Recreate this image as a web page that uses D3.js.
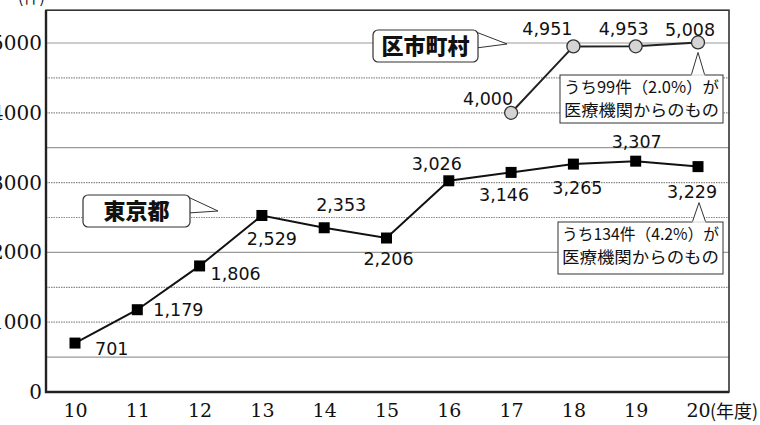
<!DOCTYPE html>
<html>
<head>
<meta charset="utf-8">
<script src="https://cdn.jsdelivr.net/npm/d3@7"></script>
<style>
  body { margin: 0; background: #fff; }
  svg { display: block; }
</style>
</head>
<body>
<div id="chart"></div>
<script>
// data
let years = [10, 11, 12, 13, 14, 15, 16, 17, 18, 19, 20];
let tokyo = [701, 1179, 1806, 2529, 2353, 2206, 3026, 3146, 3265, 3307, 3229];
let muniYears = [17, 18, 19, 20];
let muni = [4000, 4951, 4953, 5008];
let yTicks = [0, 1000, 2000, 3000, 4000, 5000];
let noteTokyo = ["うち134件（4.2%）が", "医療機関からのもの"];
let noteMuni = ["うち99件（2.0%）が", "医療機関からのもの"];

// label placement (dx, dy, anchor) for each point
let tokyoLabelPos = [
    [20, 12, "start"], [16, 6, "start"], [11, 14, "start"], [10, 30, "middle"],
    [17, -17, "middle"], [2, 27, "middle"], [-12, -11, "middle"], [-7, 29, "middle"],
    [4, 30, "middle"], [1, -13, "middle"], [-6, 31, "middle"]
];
let muniLabelPos = [[-23, -8, "middle"], [-26, -11, "middle"], [-12, -11, "middle"], [-8, -6, "middle"]];

let svgWidth = 760;
let svgHeight = 425;

let svg = d3.select("#chart")
    .append("svg")
    .attr("width", svgWidth)
    .attr("height", svgHeight);

let x = d3.scaleLinear().domain([10, 20]).range([75, 698]);
let y = d3.scaleLinear().domain([0, 5000]).range([392, 43]);

let plotLeft = 46, plotRight = 729, plotTop = y(5470), plotBottom = y(0);

// grid lines every 500
let gridVals = d3.range(500, 5001, 500);
svg.append("g")
    .selectAll("line")
    .data(gridVals)
    .enter()
    .append("line")
    .attr("x1", plotLeft)
    .attr("x2", plotRight)
    .attr("y1", d => y(d))
    .attr("y2", d => y(d))
    .attr("stroke", d => (d / 500) % 3 === 1 ? "#9a9a9a" : "#8a8a8a")
    .attr("stroke-width", 1.2)
    .attr("stroke-dasharray", d => (d / 500) % 3 === 1 ? null : "1.5,1");

// frame
svg.append("rect")
    .attr("x", plotLeft)
    .attr("y", plotTop)
    .attr("width", plotRight - plotLeft)
    .attr("height", plotBottom - plotTop)
    .attr("fill", "none")
    .attr("stroke", "#333")
    .attr("stroke-width", 1.6);
svg.append("path")
    .attr("d", `M${plotLeft},${plotTop}V${plotBottom}H${plotRight}`)
    .attr("fill", "none")
    .attr("stroke", "#222")
    .attr("stroke-width", 2.4);

// axes
let yAxis = svg.append("g")
    .attr("transform", `translate(${plotLeft},0)`)
    .call(d3.axisLeft(y).tickValues(yTicks).tickSize(0).tickPadding(4).tickFormat(d => d));
yAxis.select(".domain").remove();
yAxis.selectAll("text")
    .attr("font-family", "DejaVu Serif")
    .attr("font-size", 20)
    .attr("fill", "#111");

let xAxis = svg.append("g")
    .attr("transform", `translate(0,${plotBottom})`)
    .call(d3.axisBottom(x).tickValues(years).tickSize(0).tickPadding(12).tickFormat(d => d));
xAxis.select(".domain").remove();
xAxis.selectAll("text")
    .attr("font-family", "DejaVu Serif")
    .attr("font-size", 19)
    .attr("fill", "#111");

svg.append("text")
    .attr("x", x(20) + 12)
    .attr("y", plotBottom + 26)
    .attr("font-family", "Noto Sans CJK JP")
    .attr("font-size", 18)
    .attr("fill", "#111")
    .text("(年度)");

svg.append("text")
    .attr("x", 18)
    .attr("y", 3)
    .attr("font-family", "Noto Sans CJK JP")
    .attr("font-size", 16)
    .attr("fill", "#111")
    .text("(件)");

// lines
let line = d3.line().x(d => x(d[0])).y(d => y(d[1]));
let tokyoPts = years.map((yr, i) => [yr, tokyo[i]]);
let muniPts = muniYears.map((yr, i) => [yr, muni[i]]);

svg.append("path")
    .datum(tokyoPts)
    .attr("d", line)
    .attr("fill", "none")
    .attr("stroke", "#111")
    .attr("stroke-width", 2);

svg.append("path")
    .datum(muniPts)
    .attr("d", line)
    .attr("fill", "none")
    .attr("stroke", "#222")
    .attr("stroke-width", 2);

svg.append("g")
    .selectAll("rect")
    .data(tokyoPts)
    .enter()
    .append("rect")
    .attr("x", d => x(d[0]) - 5.5)
    .attr("y", d => y(d[1]) - 5.5)
    .attr("width", 11)
    .attr("height", 11)
    .attr("fill", "#000");

svg.append("g")
    .selectAll("circle")
    .data(muniPts)
    .enter()
    .append("circle")
    .attr("cx", d => x(d[0]))
    .attr("cy", d => y(d[1]))
    .attr("r", 6.5)
    .attr("fill", "#d4d4d4")
    .attr("stroke", "#333")
    .attr("stroke-width", 1.3);

// value labels
function addLabels(pts, pos) {
    svg.append("g")
        .selectAll("text")
        .data(pts)
        .enter()
        .append("text")
        .attr("x", (d, i) => x(d[0]) + pos[i][0])
        .attr("y", (d, i) => y(d[1]) + pos[i][1])
        .attr("text-anchor", (d, i) => pos[i][2])
        .attr("font-family", "DejaVu Sans")
        .attr("font-size", 17.5)
        .attr("fill", "#111")
        .text(d => d3.format(",")(d[1]));
}
addLabels(tokyoPts, tokyoLabelPos);
addLabels(muniPts, muniLabelPos);

// series callouts with a pointer tail
function callout(bx, by, bw, bh, tip, label) {
    let g = svg.append("g");
    g.append("path")
        .attr("d", `M${bx + bw - 2},${by + 2}L${tip[0]},${tip[1]}L${bx + bw - 2},${by + bh / 2 + 2}`)
        .attr("fill", "#fff")
        .attr("stroke", "#333")
        .attr("stroke-width", 1);
    g.append("rect")
        .attr("x", bx)
        .attr("y", by)
        .attr("width", bw)
        .attr("height", bh)
        .attr("rx", 5)
        .attr("fill", "#fff")
        .attr("stroke", "#333")
        .attr("stroke-width", 1.2);
    g.append("text")
        .attr("x", bx + bw / 2)
        .attr("y", by + bh / 2 + 8)
        .attr("text-anchor", "middle")
        .attr("font-family", "Noto Sans CJK JP")
        .attr("font-weight", 900)
        .attr("font-size", 22)
        .attr("fill", "#111")
        .text(label);
}
callout(373, 30, 105, 32, [507, 44], "区市町村");
callout(83, 195, 107, 32, [218, 211], "東京都");

// footnote boxes pointing up to the last point
function note(bx, by, bw, bh, tipX, tipY, lines) {
    let g = svg.append("g");
    g.append("path")
        .attr("d", `M${tipX - 7},${by + 1}L${tipX},${tipY}L${tipX + 7},${by + 1}`)
        .attr("fill", "#fff")
        .attr("stroke", "#333")
        .attr("stroke-width", 1);
    g.append("rect")
        .attr("x", bx)
        .attr("y", by)
        .attr("width", bw)
        .attr("height", bh)
        .attr("fill", "#fff")
        .attr("stroke", "#333")
        .attr("stroke-width", 1);
    g.append("path")
        .attr("d", `M${tipX - 6.5},${by}H${tipX + 6.5}`)
        .attr("stroke", "#fff")
        .attr("stroke-width", 1.6);
    g.selectAll("text")
        .data(lines)
        .enter()
        .append("text")
        .attr("x", bx + 4)
        .attr("y", (d, i) => by + 18 + i * 23)
        .attr("font-family", "Noto Sans CJK JP")
        .attr("font-size", 16)
        .attr("fill", "#111")
        .attr("textLength", bw - 8)
        .attr("lengthAdjust", "spacingAndGlyphs")
        .text(d => d);
}
note(560, 75, 163, 48, x(20), y(5008) + 10, noteMuni);
note(558, 222, 165, 52, x(20) + 1, y(3229) + 36, noteTokyo);
</script>
</body>
</html>
